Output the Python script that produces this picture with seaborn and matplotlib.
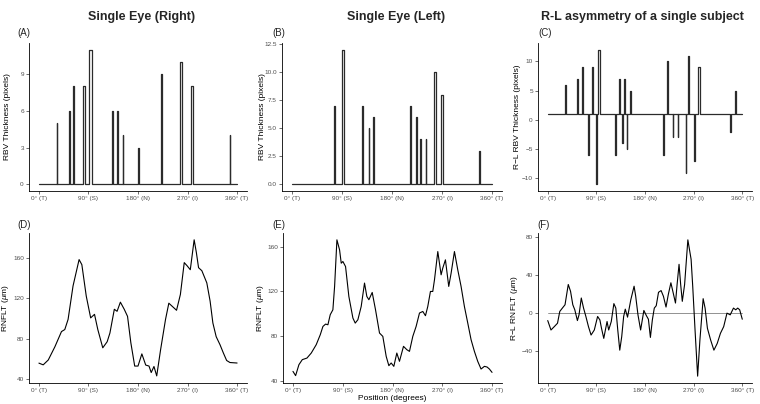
import pandas as pd
import matplotlib
matplotlib.use("Agg")
import matplotlib.pyplot as plt
import seaborn as sns

# RBV thickness peaks (position in degrees, height in pixels, bar width in degrees)
right_pos = [33, 56, 63.5, 82, 94, 133, 142, 152.5, 181, 223, 258, 278, 347]
right_rbv = [5, 6, 8, 8, 11, 6, 6, 4, 3, 9, 10, 8, 4]
right_width = [1.0, 1.2, 2.0, 2.6, 4.4, 2.0, 2.0, 1.2, 1.0, 2.6, 3.8, 2.6, 1.0]

left_pos = [76.5, 91.5, 126.5, 138.5, 147, 213.5, 223.5, 231.5, 241, 257, 270, 337.5]
left_rbv = [7, 12, 7, 5, 6, 7, 6, 4, 4, 10, 8, 3]
left_width = [2.0, 4.4, 2.0, 1.2, 2.0, 2.0, 2.0, 1.2, 1.2, 3.2, 2.0, 1.2]

asym_pos = [33, 55.6, 64.6, 75.5, 82.8, 90, 94.8, 126, 132, 138, 142, 147, 153,
            214, 222, 232, 241, 256, 261, 271, 280, 338, 347]
asym_rbv = [6, 7, 9, -6, 9, -11, 12, -6, 7, -4, 7, -5, 5,
            -6, 10, -3, -3, -9, 11, -7, 9, -2, 5]
asym_width = [1.0, 1.2, 2.4, 1.8, 2.4, 1.8, 2.4, 1.8, 1.8, 1.2, 1.8, 1.2, 1.0,
              1.8, 2.0, 1.0, 1.0, 1.2, 1.2, 1.8, 2.4, 1.0, 1.0]
asym_base = 1

# RNFLT profiles
right_deg = [0, 7.8, 17, 29, 41, 47, 53, 62, 73, 78, 86, 94, 101, 107, 116, 124, 129,
             137, 142, 148, 155, 161, 167, 174, 180, 187, 194, 200, 204, 209, 214, 221,
             230, 236, 242, 250, 257, 264, 269, 275, 282, 286, 290, 296, 305, 311, 316,
             322, 329, 335, 341, 347, 360]
right_rnflt = [55.9, 54.2, 59, 72, 87, 89, 99, 132, 158, 153, 122, 100.5, 104, 89, 71,
               77, 85.6, 109, 107, 116, 109, 102, 76, 53, 53, 65, 54, 53, 46.6, 52.6,
               43.3, 69, 99, 115, 112, 108, 123.6, 155, 152, 148, 177.5, 165, 150, 147,
               135, 117, 95.5, 82, 74, 66, 58.5, 56.5, 56]

left_deg = [0, 4.8, 10.8, 16.9, 25.3, 33.1, 42.1, 49.4, 54.2, 59.0, 63.2, 67.4, 72.2,
            75.3, 79.5, 84.3, 87.3, 90.3, 95.1, 101.1, 108.4, 112.6, 117.4, 123.4,
            129.4, 133.6, 137.3, 143.3, 149.3, 156.5, 162.5, 168.6, 173.4, 177.6,
            182.4, 187.8, 192.6, 199.9, 205.9, 210.7, 216.7, 222.7, 228.8, 234.8,
            239.6, 243.8, 248.6, 252.8, 255.9, 261.9, 267.9, 270.9, 275.7, 281.7,
            286.0, 292.0, 298.0, 304.0, 310.0, 316.1, 322.1, 328.1, 334.1, 340.1,
            346.2, 351.0, 355.2, 360]
left_rnflt = [48.3, 44.5, 54.3, 58.8, 60.2, 64.7, 72.2, 81.1, 88.5, 90.6, 90.0, 99.0,
              103.4, 124.3, 166.0, 157.0, 145.1, 146.6, 142.1, 115.3, 96.0, 91.5, 94.5,
              106.4, 127.3, 115.3, 112.4, 118.9, 103.4, 82.6, 79.6, 61.7, 53.4, 55.8,
              52.8, 64.7, 57.3, 70.7, 67.7, 66.2, 79.6, 88.5, 100.5, 101.9, 98.1, 106.4,
              119.8, 119.8, 130.2, 155.5, 134.7, 140.7, 148.1, 124.3, 136.2, 155.5,
              139.2, 124.3, 106.4, 91.5, 76.6, 66.2, 57.3, 50.4, 52.8, 52.2, 50.4, 47.4]

asym_deg = [0, 6.0, 12.1, 18.1, 22.3, 27.1, 32.0, 38.0, 42.2, 46.4, 50.1, 54.9, 57.9,
            62.1, 66.3, 70.6, 75.4, 80.2, 86.2, 92.3, 96.5, 99.5, 103.7, 106.7, 109.8,
            112.8, 117.6, 122.4, 126.0, 129.6, 133.3, 136.9, 140.5, 143.5, 147.7,
            153.8, 159.8, 162.8, 167.0, 171.9, 177.9, 182.7, 186.3, 190.0, 193.6,
            197.2, 200.8, 205.0, 209.8, 214.1, 218.9, 223.1, 227.9, 232.2, 236.4,
            239.4, 243.0, 246.0, 249.0, 253.3, 259.3, 265.3, 268.3, 272.6, 277.4,
            281.6, 287.6, 291.2, 295.5, 301.5, 307.5, 313.6, 319.6, 325.6, 331.7,
            337.7, 343.7, 347.9, 351.6, 355.2, 360]
asym_rnflt = [-7.8, -17.7, -14.2, -10.6, 1.8, 5.3, 8.8, 30.1, 23.0, 8.8, 3.5, -7.8,
              -1.8, 15.9, 5.3, -3.5, -14.2, -23.0, -17.7, -3.5, -7.1, -15.9, -26.5,
              -17.7, -8.8, -17.7, -8.8, 10.0, 5.3, -17.7, -38.9, -24.8, -3.5, 4.2,
              -4.2, 14.2, 28.3, 17.7, -1.8, -17.7, 2.8, -2.8, -6.4, -25.5, -7.1, 5.3,
              7.8, 21.9, 23.7, 17.7, 6.4, 19.5, 31.9, 21.2, 10.6, 30.1, 51.3, 30.1,
              12.4, 30.1, 77.0, 56.6, 28.3, -17.7, -66.2, -28.3, 15.2, 5.3, -15.9,
              -28.3, -38.9, -31.9, -21.2, -14.2, 0, -1.8, 5.3, 3.5, 5.3, 3.5, -6.4]

xticks = [0, 90, 180, 270, 360]
xlabels = ["0° (T)", "90° (S)", "180° (N)", "270° (I)", "360° (T)"]


def bar_steps(pos, vals, widths, base=0):
    xs, ys = [0], [base]
    for c, v, w in sorted(zip(pos, vals, widths)):
        xs += [c - w / 2, c - w / 2, c + w / 2, c + w / 2]
        ys += [base, v, v, base]
    xs.append(360)
    ys.append(base)
    return pd.DataFrame({"deg": xs, "val": ys})


sns.set_style("ticks")
plt.rcParams["font.family"] = ["Liberation Sans", "DejaVu Sans"]
plt.rcParams["mathtext.fontset"] = "custom"
plt.rcParams["mathtext.it"] = "Liberation Sans:italic"
plt.rcParams["mathtext.rm"] = "Liberation Sans"
plt.rcParams["lines.solid_joinstyle"] = "round"

fig = plt.figure(figsize=(7.6, 4.04), dpi=100)
W, H = 760, 404

# (left, right, top, bottom, right edge of y-label) in pixels
boxes = {
    "A": (29, 247, 43, 191, 11),
    "B": (282, 502, 43, 191, 266),
    "C": (538, 752, 43, 191, 521),
    "D": (29, 247, 233, 383, 11),
    "E": (283, 502, 233, 383, 266),
    "F": (538, 752, 233, 383, 520),
}
axes = {}
for key, (x0, x1, top, bottom, lab_x) in boxes.items():
    ax = fig.add_axes([x0 / W, 1 - bottom / H, (x1 - x0) / W, (bottom - top) / H])
    axes[key] = ax

axA, axB, axC, axD, axE, axF = (axes[k] for k in "ABCDEF")

bar_color = "#2b2b2b"
sns.lineplot(data=bar_steps(right_pos, right_rbv, right_width), x="deg", y="val",
             sort=False, estimator=None, color=bar_color, linewidth=0.9, ax=axA)
sns.lineplot(data=bar_steps(left_pos, left_rbv, left_width), x="deg", y="val",
             sort=False, estimator=None, color=bar_color, linewidth=0.9, ax=axB)
sns.lineplot(data=bar_steps(asym_pos, asym_rbv, asym_width, asym_base), x="deg", y="val",
             sort=False, estimator=None, color=bar_color, linewidth=0.9, ax=axC)

axF.plot([0, 360], [0, 0], color="#808080", linewidth=0.6)
sns.lineplot(x=right_deg, y=right_rnflt, sort=False, estimator=None,
             color="black", linewidth=0.8, ax=axD)
sns.lineplot(x=left_deg, y=left_rnflt, sort=False, estimator=None,
             color="black", linewidth=0.8, ax=axE)
sns.lineplot(x=asym_deg, y=asym_rnflt, sort=False, estimator=None,
             color="black", linewidth=0.8, ax=axF)

axA.set_ylim(-0.55, 11.55)
axA.set_yticks([0, 3, 6, 9])
axB.set_ylim(-0.6, 12.6)
axB.set_yticks([0, 2.5, 5, 7.5, 10, 12.5])
axB.set_yticklabels(["0.0", "2.5", "5.0", "7.5", "10.0", "12.5"])
axC.set_ylim(-12.15, 13.15)
axC.set_yticks([-10, -5, 0, 5, 10])
axD.set_ylim(36.3, 184.2)
axD.set_yticks([40, 80, 120, 160])
axE.set_ylim(37.9, 172.1)
axE.set_yticks([40, 80, 120, 160])
axF.set_ylim(-73.4, 84.2)
axF.set_yticks([-40, 0, 40, 80])

mu = "($\\mathit{\\mu}$m)"
ylabels = {"A": "RBV Thickness (pixels)", "B": "RBV Thickness (pixels)",
           "C": "R\u2212L RBV Thickness (pixels)", "D": "RNFLT " + mu,
           "E": "RNFLT " + mu, "F": "R\u2212L RNFLT " + mu}

for key, lab in ylabels.items():
    ax = axes[key]
    x0, x1, top, bottom, lab_x = boxes[key]
    ax.set_xlim(-18, 378)
    ax.set_xticks(xticks)
    ax.set_xticklabels(xlabels)
    ax.set_xlabel("")
    ax.set_ylabel(lab, fontsize=6, color="black")
    ax.yaxis.set_label_coords((lab_x - x0) / (x1 - x0), 0.5)
    ax.tick_params(axis="both", labelsize=4.6, labelcolor="#4d4d4d", color="#333333",
                   length=2.2, width=0.5, pad=1.5)
    for side in ["top", "right"]:
        ax.spines[side].set_visible(False)
    for side in ["left", "bottom"]:
        ax.spines[side].set_linewidth(0.6)
        ax.spines[side].set_color("black")

axE.set_xlabel("Position (degrees)", fontsize=6, color="black", labelpad=1)

# column titles
fig.text(141.7 / W, 1 - 17 / H, "Single Eye (Right)", ha="center", va="center",
         fontsize=9, fontweight="bold")
fig.text(396 / W, 1 - 17 / H, "Single Eye (Left)", ha="center", va="center",
         fontsize=9, fontweight="bold")
fig.text(642 / W, 1 - 17 / H, "R-L asymmetry of a single subject", ha="center",
         va="center", fontsize=9, fontweight="bold")

# panel tags
tags = [("(A)", 17, 33), ("(B)", 272, 33), ("(C)", 538, 33),
        ("(D)", 17, 225), ("(E)", 272, 225), ("(F)", 537, 225)]
for t, x, y in tags:
    fig.text(x / W, 1 - y / H, t, ha="left", va="center", fontsize=7)

fig.savefig("out.png", dpi=100)
